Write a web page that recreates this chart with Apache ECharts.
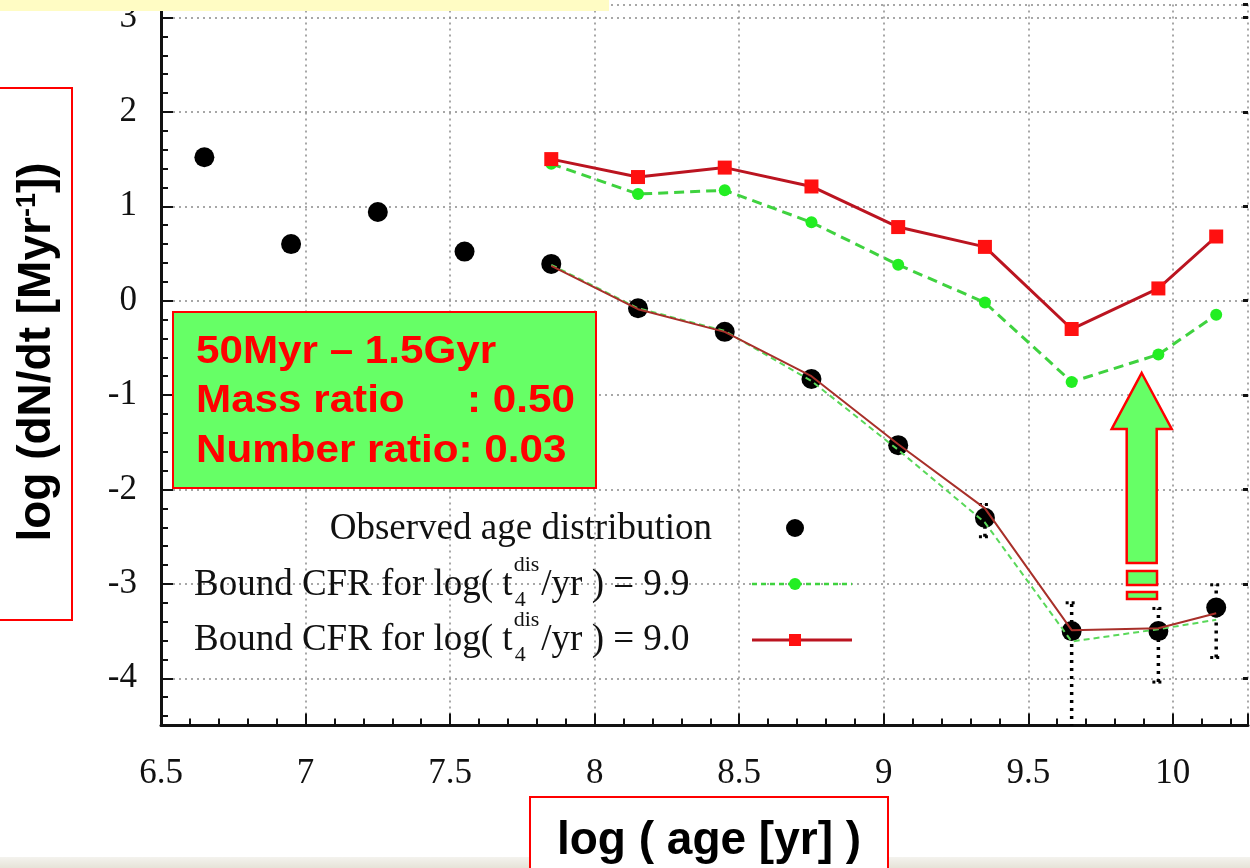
<!DOCTYPE html>
<html><head><meta charset="utf-8">
<script src="https://cdn.jsdelivr.net/npm/echarts@6/dist/echarts.min.js"></script>
<style>html,body{margin:0;padding:0;background:#fff}#c{width:1250px;height:868px}</style>
</head><body><div id="c"></div>
<script>
// ---- data ----
const ageBins  = [6.65, 6.95, 7.25, 7.55, 7.85, 8.15, 8.45, 8.75, 9.05, 9.35, 9.65, 9.95, 10.15];
const observed = [1.52, 0.60, 0.94, 0.52, 0.39, -0.08, -0.33, -0.83, -1.53, -2.30, -3.50, -3.50, -3.25];
const modelAges = [7.85, 8.15, 8.45, 8.75, 9.05, 9.35, 9.65, 9.95, 10.15];
const bound99  = [1.45, 1.13, 1.17, 0.83, 0.38, -0.02, -0.86, -0.57, -0.15];
const bound90  = [1.50, 1.31, 1.41, 1.21, 0.78, 0.57, -0.30, 0.13, 0.68];
const total99  = [0.38, -0.08, -0.32, -0.85, -1.58, -2.35, -3.61, -3.48, -3.38];
const total90  = [0.37, -0.09, -0.33, -0.80, -1.52, -2.20, -3.49, -3.47, -3.31];
const errAges  = [9.35, 9.65, 9.95, 10.15];
const errLow   = [-2.50, -4.60, -4.04, -3.78];
const errHigh  = [-2.16, -3.20, -3.26, -3.01];
const xTicks = [6.5, 7, 7.5, 8, 8.5, 9, 9.5, 10];
const yTicks = [-4, -3, -2, -1, 0, 1, 2, 3];
const legendLabels = ['Observed age distribution', 'Bound CFR for log( t', 'dis', '4', '/yr ) = 9.9', '/yr ) = 9.0'];
const infoLines = ['50Myr \u2013 1.5Gyr', 'Mass ratio', ': 0.50', 'Number ratio: 0.03'];

const SERIF = '"Liberation Serif", "Times New Roman", serif';
const SANS = '"Liberation Sans", Arial, sans-serif';
const GREEN = '#3fd23f', GREENM = '#22ee22', RED = '#bb1420', REDM = '#ff1010';

const pair = (xs, ys) => xs.map((x, i) => [x, ys[i]]);

const mctx = document.createElement('canvas').getContext('2d');
function tw(t, size) { mctx.font = size + 'px ' + SERIF; return mctx.measureText(t).width; }

const chart = echarts.init(document.getElementById('c'), null, {renderer: 'canvas'});

const leftX = 194;
const tEnd = leftX + tw(legendLabels[1], 37);
const supW = tw(legendLabels[2], 22);
function legendRow(y, tail) {
  return [
    {type: 'text', z: 50, x: leftX, y: y, style: {text: legendLabels[1], font: '37px ' + SERIF, fill: '#111', align: 'left', verticalAlign: 'middle'}},
    {type: 'text', z: 50, x: tEnd + 1, y: y - 20, style: {text: legendLabels[2], font: '22px ' + SERIF, fill: '#111', align: 'left', verticalAlign: 'middle'}},
    {type: 'text', z: 50, x: tEnd + 2, y: y + 15, style: {text: legendLabels[3], font: '22px ' + SERIF, fill: '#111', align: 'left', verticalAlign: 'middle'}},
    {type: 'text', z: 50, x: tEnd + supW + 3, y: y, style: {text: tail, font: '37px ' + SERIF, fill: '#111', align: 'left', verticalAlign: 'middle'}}
  ];
}
const INFO_FONT = 'bold 38px ' + SANS, INFO_SX = 1.11;

const graphics = [
  {type: 'rect', z: 60, shape: {x: 0, y: 0, width: 609, height: 11}, style: {fill: '#fffcc4'}},
  {type: 'rect', z: 1, shape: {x: 0, y: 857, width: 1250, height: 11},
   style: {fill: new echarts.graphic.LinearGradient(0, 0, 0, 1, [{offset: 0, color: '#f4f3ee'}, {offset: 1, color: '#e6e3d8'}])}},
  {type: 'rect', z: 50, shape: {x: -2, y: 88, width: 74, height: 532}, style: {fill: 'transparent', stroke: '#ff0000', lineWidth: 2}},
  {type: 'text', z: 51, x: 37, y: 352, rotation: Math.PI / 2,
   style: {text: '{m|log (dN/dt [Myr}{s|-1}{m|])}', align: 'center', verticalAlign: 'middle', fill: '#000',
     rich: {m: {fontSize: 46, fontWeight: 'bold', fontFamily: SANS, fill: '#000'},
            s: {fontSize: 27, fontWeight: 'bold', fontFamily: SANS, fill: '#000', verticalAlign: 'top'}}}},
  {type: 'rect', z: 50, shape: {x: 530, y: 797, width: 358, height: 80}, style: {fill: '#fff', stroke: '#ff0000', lineWidth: 2}},
  {type: 'text', z: 51, x: 709, y: 841, style: {text: 'log ( age [yr] )', font: 'bold 46px ' + SANS, fill: '#000', align: 'center', verticalAlign: 'middle'}},
  {type: 'rect', z: 50, shape: {x: 173, y: 312, width: 423, height: 176}, style: {fill: '#66ff66', stroke: '#ff0000', lineWidth: 2}},
  {type: 'text', z: 51, x: 196, y: 353, scaleX: INFO_SX, style: {text: infoLines[0], font: INFO_FONT, fill: '#ff0000', align: 'left', verticalAlign: 'middle'}},
  {type: 'text', z: 51, x: 196, y: 402, scaleX: INFO_SX, style: {text: infoLines[1], font: INFO_FONT, fill: '#ff0000', align: 'left', verticalAlign: 'middle'}},
  {type: 'text', z: 51, x: 467, y: 402, scaleX: INFO_SX, style: {text: infoLines[2], font: INFO_FONT, fill: '#ff0000', align: 'left', verticalAlign: 'middle'}},
  {type: 'text', z: 51, x: 196, y: 452, scaleX: INFO_SX, style: {text: infoLines[3], font: INFO_FONT, fill: '#ff0000', align: 'left', verticalAlign: 'middle'}},
  {type: 'polygon', z: 50, shape: {points: [[1141.7, 373], [1171.7, 429], [1156.7, 429], [1156.7, 563], [1126.7, 563], [1126.7, 429], [1111.7, 429]]},
   style: {fill: '#66ff66', stroke: '#ff0000', lineWidth: 2.5, lineJoin: 'miter'}},
  {type: 'rect', z: 50, shape: {x: 1127, y: 571, width: 30, height: 14}, style: {fill: '#66ff66', stroke: '#ff0000', lineWidth: 2.5}},
  {type: 'rect', z: 50, shape: {x: 1127, y: 592, width: 30, height: 7}, style: {fill: '#66ff66', stroke: '#ff0000', lineWidth: 2.5}},
  {type: 'text', z: 50, x: 712, y: 529, style: {text: legendLabels[0], font: '37px ' + SERIF, fill: '#111', align: 'right', verticalAlign: 'middle'}},
  {type: 'circle', z: 50, shape: {cx: 795, cy: 528, r: 9}, style: {fill: '#000'}},
  ...legendRow(585, legendLabels[4]),
  {type: 'line', z: 50, shape: {x1: 752, y1: 584, x2: 852, y2: 584}, style: {stroke: GREEN, lineWidth: 2.5, lineDash: [5, 4]}},
  {type: 'circle', z: 51, shape: {cx: 795, cy: 584, r: 6}, style: {fill: GREENM}},
  ...legendRow(640, legendLabels[5]),
  {type: 'line', z: 50, shape: {x1: 752, y1: 640, x2: 852, y2: 640}, style: {stroke: RED, lineWidth: 3}},
  {type: 'rect', z: 51, shape: {x: 789, y: 634, width: 12, height: 12}, style: {fill: REDM}}
];

const option = {
  backgroundColor: '#ffffff',
  animation: false,
  grid: {left: 161, right: 2, top: 0, bottom: 142.5, containLabel: false},
  xAxis: {
    type: 'value', min: 6.5, max: 10.26, interval: 0.5,
    axisLine: {show: true, onZero: false, lineStyle: {color: '#111', width: 3}},
    axisTick: {show: true, inside: true, length: 12, lineStyle: {color: '#111', width: 2}},
    minorTick: {show: true, splitNumber: 5, length: 7, lineStyle: {color: '#111', width: 2}},
    axisLabel: {margin: 31, fontSize: 35, fontFamily: SERIF, color: '#111', showMaxLabel: false,
      formatter: v => (xTicks.indexOf(v) >= 0 ? String(v) : '')},
    splitLine: {show: true, lineStyle: {color: '#8a8a8a', width: 1.5, type: [2, 4]}}
  },
  yAxis: [{
    type: 'value', min: -4.5, max: 3.137, splitNumber: 8,
    axisLine: {show: true, onZero: false, lineStyle: {color: '#111', width: 3}},
    axisTick: {show: true, inside: true, length: 12, lineStyle: {color: '#111', width: 2}},
    minorTick: {show: true, splitNumber: 5, length: 7, lineStyle: {color: '#111', width: 2}},
    axisLabel: {margin: 24, fontSize: 35, fontFamily: SERIF, color: '#111', showMinLabel: false,
      formatter: v => (yTicks.indexOf(v) >= 0 ? String(v) : '')},
    splitLine: {show: true, lineStyle: {color: '#8a8a8a', width: 1.5, type: [2, 4]}}
  }, {
    type: 'value', position: 'right', min: -4.5, max: 3.137, splitNumber: 8,
    axisLine: {show: false, onZero: false},
    axisTick: {show: true, inside: true, length: 5, lineStyle: {color: '#111', width: 3}},
    axisLabel: {show: false}, splitLine: {show: false}
  }],
  series: [
    {type: 'scatter', name: 'Observed age distribution', data: pair(ageBins, observed), symbol: 'circle', symbolSize: 20,
     itemStyle: {color: '#000', opacity: 1}, z: 2},
    {type: 'custom', name: 'errors', z: 3, clip: true,
     data: errAges.map((x, i) => [x, errLow[i], errHigh[i]]),
     renderItem: function (params, api) {
       const x = api.value(0), lo = api.value(1), hi = api.value(2);
       const a = api.coord([x, lo]), b = api.coord([x, hi]);
       const st = {stroke: '#000', lineWidth: 3.5, lineDash: [3, 5]};
       return {type: 'group', children: [
         {type: 'line', shape: {x1: a[0], y1: a[1], x2: b[0], y2: b[1]}, style: st},
         {type: 'line', shape: {x1: b[0] - 6, y1: b[1], x2: b[0] + 6, y2: b[1]}, style: {stroke: '#000', lineWidth: 3, lineDash: [3, 3]}},
         {type: 'line', shape: {x1: a[0] - 6, y1: a[1], x2: a[0] + 6, y2: a[1]}, style: {stroke: '#000', lineWidth: 3, lineDash: [3, 3]}}
       ]};
     }},
    {type: 'line', name: 'total 9.9', data: pair(modelAges, total99), symbol: 'none', z: 4,
     lineStyle: {color: '#5ad85a', width: 2, type: [6, 4]}},
    {type: 'line', name: 'total 9.0', data: pair(modelAges, total90), symbol: 'none', z: 5,
     lineStyle: {color: '#a8302a', width: 2}},
    {type: 'line', name: 'Bound 9.9', data: pair(modelAges, bound99), symbol: 'circle', symbolSize: 12, z: 6,
     itemStyle: {color: GREENM}, lineStyle: {color: GREEN, width: 3, type: [10, 6]}},
    {type: 'line', name: 'Bound 9.0', data: pair(modelAges, bound90), symbol: 'rect', symbolSize: 14, z: 7,
     itemStyle: {color: REDM}, lineStyle: {color: RED, width: 3}}
  ],
  graphic: graphics
};
chart.setOption(option);
</script>
</body></html>
